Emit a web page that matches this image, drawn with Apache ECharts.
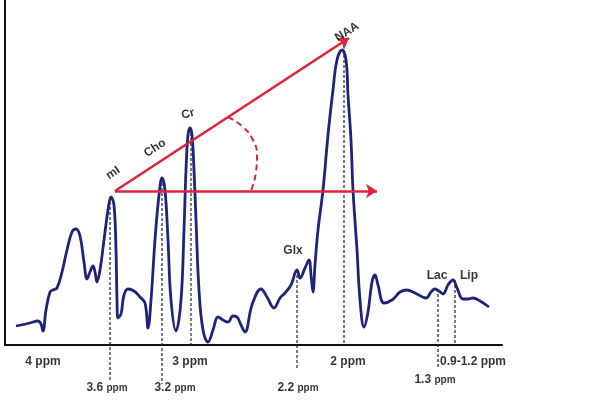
<!DOCTYPE html>
<html lang="en">
<head>
    <meta charset="utf-8"/>
    <title>MR spectrum</title>
    <script src="https://cdn.jsdelivr.net/npm/echarts@6/dist/echarts.min.js"></script>
    <style>
        html, body { margin: 0; padding: 0; background: #fff; }
        #chart { width: 600px; height: 410px; }
    </style>
</head>
<body>
<div id="chart"></div>
<script type="text/javascript">
    // spectrum trace: position along the axis (left -> right) and signal height
    var specPos = [11, 25, 33, 36, 38, 41, 45, 48, 52, 57, 62, 67, 71, 75, 79, 82, 85, 88, 90, 92, 95, 99, 103, 106, 109,
        111, 112, 113, 116, 119, 123, 129, 135, 140, 143, 146, 150, 154, 157, 160, 163, 166, 171, 176, 179, 181, 183, 185,
        187, 189, 191, 194, 198, 203, 208, 213, 218, 223, 228, 232, 236, 240, 247, 256, 262, 269, 275, 280, 286, 292, 295,
        300, 304, 306, 308, 310, 313, 318, 323, 328, 332, 337, 341, 343, 346, 348, 352, 355, 359, 363, 367, 370, 373, 379,
        387, 395, 402, 410, 421, 426, 430, 434, 438, 443, 448, 452, 458, 463, 468, 475, 484];
    var specAmp = [19, 22, 24, 21, 14, 35, 53, 55, 57, 73, 95, 113, 116, 109, 83, 66, 73, 79, 73, 63, 75, 105, 135, 148, 140,
        95, 45, 27, 31, 50, 56, 54, 48, 42, 17, 45, 105, 150, 167, 155, 105, 45, 14, 45, 115, 175, 210, 217,
        210, 175, 125, 55, 15, 3, 15, 28, 25, 23, 29, 28, 20, 13, 40, 56, 48, 37, 47, 52, 60, 75, 67,
        77, 85, 70, 53, 80, 115, 155, 210, 255, 285, 295, 285, 250, 205, 155, 95, 45, 18, 33, 63, 70, 60, 42,
        45, 53, 55, 52, 47, 53, 56, 54, 51, 60, 65, 57, 46, 46, 47, 44, 38];

    // dotted guides from each peak down past the axis
    var guidePos = [105, 157, 186, 292, 339, 433, 450];
    var guideTop = [148, 167, 217, 75, 295, 56, 65];
    var guideBottom = [-37, -39, 0, -23, 0, -23, 0];

    // labels under the axis
    var tickText = ['4 ppm', '3 ppm', '2 ppm', '0.9-1.2 ppm'];
    var tickPos = [38, 185, 343, 468];
    var peakTickText = ['3.6', '3.2', '2.2', '1.3'];
    var peakTickPos = [102, 170, 293, 430];
    var peakTickRow = [-43, -43, -43, -35];

    // metabolite names
    var metNames = ['mI', 'Cho', 'Cr', 'NAA', 'Glx', 'Lac', 'Lip'];
    var metPos = [108, 150, 183, 342, 288, 432, 464];
    var metAmp = [172, 197, 231, 313, 94, 69, 69];
    var metRotate = [33, 33, 15, 33, 0, 0, 0];

    // red ratio arrows (start at mI, one flat, one up to NAA) and the dashed angle arc
    var arrowStart = [110, 154];
    var arrowFlatEnd = [372, 154];
    var arrowNaaEnd = [344, 307];
    var arcPos = [223, 238, 248, 252, 251, 246];
    var arcAmp = [228, 218, 205, 190, 173, 154];

    var chart = echarts.init(document.getElementById('chart'));
    var FONT = '"Liberation Sans", Arial, sans-serif';
    var RED = '#dc2538';

    var specData = specPos.map(function (p, i) { return [p, specAmp[i]]; });
    var arcData = arcPos.map(function (p, i) { return [p, arcAmp[i]]; });

    var guideSeries = guidePos.map(function (p, i) {
        return {
            type: 'line',
            data: [[p, guideTop[i]], [p, guideBottom[i]]],
            symbol: 'none',
            clip: false,
            silent: true,
            z: 1,
            lineStyle: {color: '#222', width: 1.2, type: [3, 2]}
        };
    });

    var textSeries = function (items, style) {
        return {
            type: 'scatter',
            data: items,
            symbolSize: 0,
            clip: false,
            silent: true,
            z: 5,
            label: Object.assign({
                show: true,
                position: 'inside',
                color: '#000',
                fontFamily: FONT,
                fontWeight: 'bold',
                fontSize: 12,
                formatter: function (d) { return d.name; }
            }, style)
        };
    };

    var tickItems = tickText.map(function (t, i) {
        return {name: t, value: [tickPos[i], -17]};
    });
    var peakTickItems = peakTickText.map(function (t, i) {
        return {name: t, value: [peakTickPos[i], peakTickRow[i]]};
    });
    var metItems = metNames.map(function (t, i) {
        return {name: t, value: [metPos[i], metAmp[i]], label: {rotate: metRotate[i]}};
    });

    chart.setOption({
        animation: false,
        grid: {left: 5, right: 98, top: 0, bottom: 65},
        xAxis: {
            type: 'value', min: 0, max: 497,
            axisLine: {show: true, lineStyle: {color: '#111', width: 2}},
            axisTick: {show: false}, axisLabel: {show: false}, splitLine: {show: false}
        },
        yAxis: {
            type: 'value', min: 0, max: 345,
            axisLine: {show: true, lineStyle: {color: '#111', width: 2}},
            axisTick: {show: false}, axisLabel: {show: false}, splitLine: {show: false}
        },
        series: guideSeries.concat([
            {
                name: 'spectrum',
                type: 'line',
                data: specData,
                smooth: 0.4,
                symbol: 'none',
                z: 3,
                lineStyle: {color: '#1f237a', width: 2.8}
            },
            {
                name: 'arc',
                type: 'line',
                data: arcData,
                smooth: 0.5,
                symbol: 'none',
                z: 4,
                lineStyle: {color: RED, width: 2, type: [6, 4]}
            },
            {
                name: 'arrows',
                type: 'line',
                data: [],
                markLine: {
                    silent: true,
                    symbol: ['none', 'arrow'],
                    symbolSize: 11,
                    label: {show: false},
                    lineStyle: {color: RED, width: 2.6, type: 'solid'},
                    data: [
                        [{coord: arrowStart}, {coord: arrowFlatEnd}],
                        [{coord: arrowStart}, {coord: arrowNaaEnd}]
                    ]
                },
                z: 4
            },
            textSeries(tickItems, {}),
            textSeries(peakTickItems, {
                formatter: function (d) { return '{n|' + d.name + '} {u|ppm}'; },
                rich: {
                    n: {fontFamily: FONT, fontWeight: 'bold', fontSize: 12, color: '#000'},
                    u: {fontFamily: FONT, fontWeight: 'bold', fontSize: 10, color: '#000'}
                }
            }),
            textSeries(metItems, {})
        ])
    });
</script>
</body>
</html>
